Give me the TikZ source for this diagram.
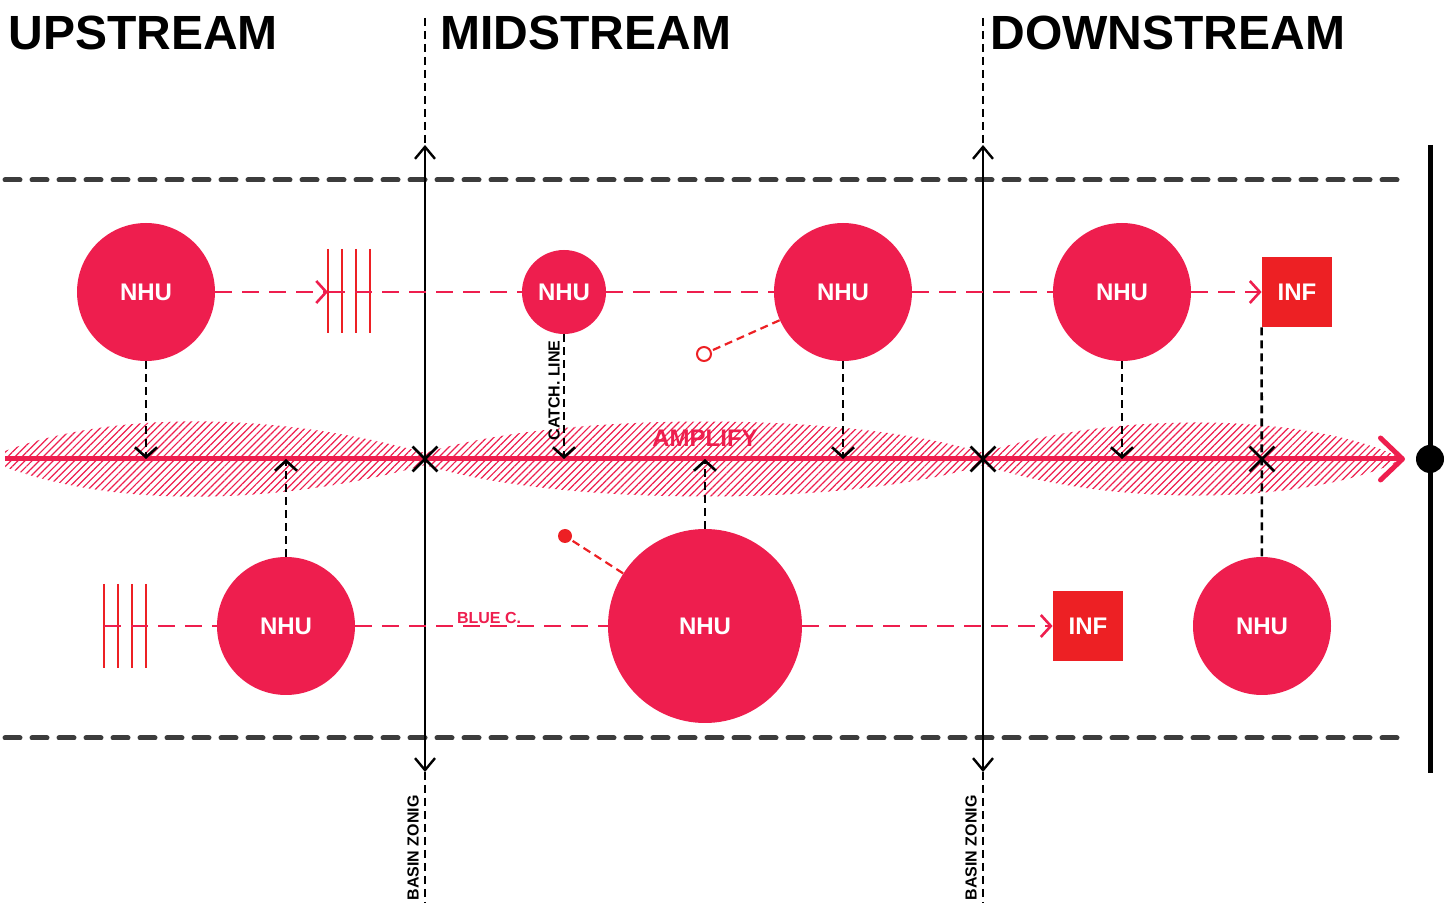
\documentclass[tikz,border=0pt]{standalone}
\usepackage{fontspec}
\setmainfont{Liberation Sans}
\usetikzlibrary{arrows.meta,patterns.meta,shapes.misc}
\definecolor{crimson}{RGB}{238,30,78}
\definecolor{infred}{RGB}{237,32,36}
\definecolor{dashgray}{RGB}{60,60,60}
\begin{document}
\begin{tikzpicture}[x=0.5pt,y=-0.5pt,
  nhu/.style={circle, fill=crimson, text=white, inner sep=0pt, minimum size=#1, font=\bfseries\fontsize{12}{14}\selectfont},
  inf/.style={rectangle, fill=infred, text=white, inner sep=0pt, minimum size=35pt, font=\bfseries\fontsize{12}{14}\selectfont},
  zone/.style={font=\bfseries\fontsize{24}{28}\selectfont, anchor=base west, inner sep=0pt},
  tag/.style={font=\bfseries\fontsize{8}{9}\selectfont, inner sep=1pt},
  flow/.style={crimson, line width=1.3pt, dash pattern=on 8.5pt off 5pt},
  drop/.style={black, line width=1.3pt, dash pattern=on 4pt off 2.5pt},
  spur/.style={infred, line width=1.1pt, dash pattern=on 4pt off 2.5pt},
  fence/.style={infred, line width=1.4pt},
  bank/.style={dashgray, line width=2.5pt, line cap=round, dash pattern=on 7.5pt off 6pt},
  barb/.style={-{Straight Barb[length=5pt,width=11pt]}},
  xmark/.style={cross out, draw=black, line width=1.4pt, minimum size=11pt, inner sep=0pt}]
\useasboundingbox (0,0) rectangle (1448,903);

% zone titles
\node[zone] (up) at (8,50) {UPSTREAM};
\node[zone] (mid) at (440,50) {MIDSTREAM};
\node[zone] (down) at (990,50) {DOWNSTREAM};

% river banks
\coordinate (bankNw) at (5,180);
\coordinate (bankNe) at (1405,180);
\coordinate (bankSw) at (5,738);
\coordinate (bankSe) at (1405,738);
\draw[bank] (bankNw) -- (bankNe);
\draw[bank] (bankSw) -- (bankSe);

% hatched amplification band
\fill[pattern={Lines[angle=45,distance=2.5pt,line width=0.6pt]}, pattern color=crimson]
  (5,451) .. controls (130,405) and (300,418) .. (425,453)
  .. controls (560,411) and (850,411) .. (983,453)
  .. controls (1110,411) and (1300,413) .. (1395,455)
  -- (1395,463)
  .. controls (1300,505) and (1110,507) .. (983,465)
  .. controls (850,507) and (560,507) .. (425,465)
  .. controls (300,500) and (130,513) .. (5,467) -- cycle;

% main river
\coordinate (src) at (5,459);
\coordinate (mouth) at (1405,459);
\draw[crimson, line width=2.5pt, -{Straight Barb[length=11pt,width=21pt,round]}] (src) -- (mouth);
\node[font=\bfseries\fontsize{12}{14}\selectfont, text=crimson, inner sep=0pt] (amplify) at (705,438) {AMPLIFY};

% coast line
\coordinate (coastN) at (1430,145);
\coordinate (coastS) at (1430,773);
\draw[line width=2.5pt] (coastN) -- (coastS);
\node[circle, fill=black, minimum size=14pt, inner sep=0pt] (outlet) at (1430,459) {};

% basin zoning lines
\coordinate (zaTop) at (425,18);
\coordinate (zaN) at (425,145);
\coordinate (zaS) at (425,772);
\coordinate (zaEnd) at (425,903);
\draw[drop] (zaTop) -- (zaN);
\draw[line width=1.2pt, {Straight Barb[length=6pt,width=10pt]}-{Straight Barb[length=6pt,width=10pt]}] (zaS) -- (zaN);
\draw[drop] (zaS) -- (zaEnd) node[tag, pos=0.58, rotate=90, anchor=south, inner sep=2.5pt] {BASIN ZONIG};
\coordinate (zbTop) at (983,18);
\coordinate (zbN) at (983,145);
\coordinate (zbS) at (983,772);
\coordinate (zbEnd) at (983,903);
\draw[drop] (zbTop) -- (zbN);
\draw[line width=1.2pt, {Straight Barb[length=6pt,width=10pt]}-{Straight Barb[length=6pt,width=10pt]}] (zbS) -- (zbN);
\draw[drop] (zbS) -- (zbEnd) node[tag, pos=0.58, rotate=90, anchor=south, inner sep=2.5pt] {BASIN ZONIG};

% crossings
\node[xmark] (xa) at (425,459) {};
\node[xmark] (xb) at (983,459) {};
\node[xmark] (xc) at (1262,459) {};

% units, upper row
\node[nhu=69pt] (n1) at (146,292) {NHU};
\node[nhu=42pt] (n2) at (564,292) {NHU};
\node[nhu=69pt] (n3) at (843,292) {NHU};
\node[nhu=69pt] (n4) at (1122,292) {NHU};
\node[inf] (i1) at (1297,292) {INF};

% units, lower row
\node[nhu=69pt] (n5) at (286,626) {NHU};
\node[nhu=97pt] (n6) at (705,626) {NHU};
\node[inf] (i2) at (1088,626) {INF};
\node[nhu=69pt] (n7) at (1262,626) {NHU};

% weirs
\coordinate (w1) at (328,292);
\draw[fence] (328,249) -- (328,333);
\draw[fence] (342,249) -- (342,333);
\draw[fence] (356,249) -- (356,333);
\draw[fence] (370,249) -- (370,333);
\coordinate (w2) at (104,626);
\draw[fence] (104,584) -- (104,668);
\draw[fence] (118,584) -- (118,668);
\draw[fence] (132,584) -- (132,668);
\draw[fence] (146,584) -- (146,668);

% flows between units
\draw[flow, barb] (n1) -- (w1);
\draw[flow] (w1) -- (n2);
\draw[flow] (n2) -- (n3);
\draw[flow] (n3) -- (n4);
\draw[flow, barb] (n4) -- (i1);
\draw[flow] (w2) -- (n5);
\draw[flow] (n5) -- (n6) node[tag, pos=0.53, above, text=crimson, inner sep=0.5pt] {BLUE C.};
\draw[flow, barb] (n6) -- (i2);

% drops to the river
\draw[drop, barb] (n1) -- (n1 |- src);
\draw[drop, barb] (n5) -- (n5 |- src);
\draw[drop, barb] (n2) -- (n2 |- src) node[tag, pos=0.45, rotate=90, anchor=south, inner sep=1.5pt] {CATCH. LINE};
\draw[drop, barb] (n6) -- (n6 |- src);
\draw[drop, barb] (n3) -- (n3 |- src);
\draw[drop, barb] (n4) -- (n4 |- src);
\draw[drop] (i1.south west) -- (n7);

% spurs
\node[circle, draw=infred, fill=white, line width=1pt, minimum size=7pt, inner sep=0pt] (o1) at (704,354) {};
\draw[spur] (n3) -- (o1);
\node[circle, fill=infred, minimum size=7pt, inner sep=0pt] (o2) at (565,536) {};
\draw[spur] (n6) -- (o2);
\end{tikzpicture}
\end{document}
